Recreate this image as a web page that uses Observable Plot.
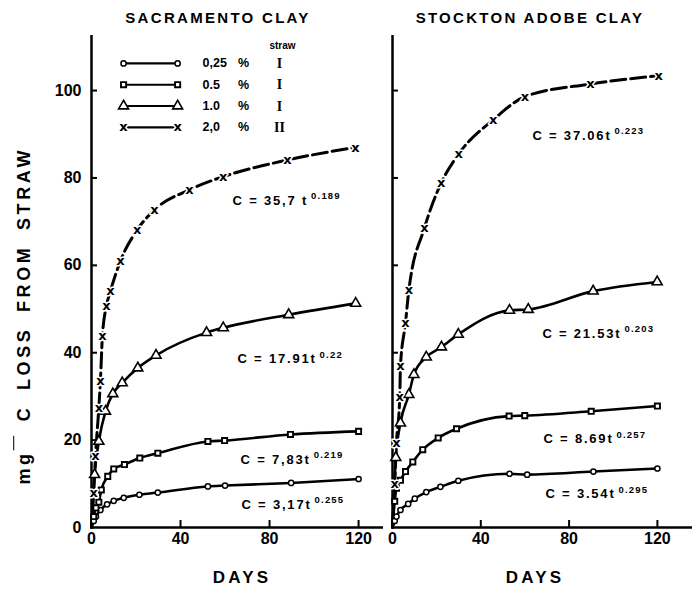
<!DOCTYPE html>
<html><head><meta charset="utf-8">
<script src="https://cdn.jsdelivr.net/npm/d3@7"></script>
<script src="https://cdn.jsdelivr.net/npm/@observablehq/plot@0.6"></script>
<style>
body{margin:0;background:#fff;}
#wrap{position:relative;width:694px;height:589px;font-family:"Liberation Sans",Arial,sans-serif;font-weight:bold;color:#000;overflow:hidden;}
.abs{position:absolute;white-space:nowrap;text-align:center;}
.plot{position:absolute;top:0;}
</style></head><body><div id="wrap"></div>
<script>
// ---- text / categories ----
const panelTitles = ["SACRAMENTO CLAY", "STOCKTON ADOBE CLAY"];
const seriesKeys = ["0.25", "0.5", "1.0", "2.0"];
const legendPct = ["0,25", "0.5", "1.0", "2,0"];
const strawType = ["I", "I", "I", "II"];
const xTicks = [0, 40, 80, 120];
const yTicks = [0, 20, 40, 60, 80, 100];
const xLabel = "DAYS";

// ---- Sacramento clay (days, mg C) ----
const sac025Days = [1, 2, 4, 7, 10, 14.5, 21.5, 29.8, 52.3, 60, 89.7, 120];
const sac025Vals = [1.5, 2.5, 4, 5.3, 6.1, 6.8, 7.5, 8, 9.4, 9.6, 10.2, 11.1];
const sac05Days = [1, 2, 3.3, 4.4, 7.3, 10, 14.8, 21.7, 29.8, 52.3, 59.8, 89.4, 120];
const sac05Vals = [2.5, 4.5, 5.8, 8.6, 11.7, 13.4, 14.4, 15.9, 17, 19.7, 19.9, 21.3, 22];
const sac10Days = [1.4, 3.3, 6.3, 9.6, 13.8, 20.8, 29, 51.7, 59.2, 88.6, 118.7];
const sac10Vals = [12.1, 19.7, 26.6, 30.6, 33.1, 36.5, 39.4, 44.6, 45.7, 48.7, 51.3];
const sac20Days = [1, 1.8, 3.3, 4, 4.9, 6.7, 8.5, 13, 20.5, 28.3, 44, 59.2, 88, 118.6];
const sac20Vals = [8, 16.3, 27.4, 33.5, 43.8, 50.7, 54.1, 61, 68.1, 72.7, 77.3, 80.3, 84.1, 87];

// ---- Stockton adobe clay (days, mg C) ----
const stk025Days = [1, 1.8, 3.6, 7.1, 10.1, 15.3, 21.7, 29.8, 53, 61, 91, 120];
const stk025Vals = [1.5, 2.5, 4, 5.4, 6.6, 8.1, 9.3, 10.7, 12.3, 12.1, 12.8, 13.5];
const stk05Days = [1, 1.8, 3.6, 5.9, 9.2, 13.7, 20.7, 29, 52.8, 59.9, 90, 120];
const stk05Vals = [6, 9, 10.8, 12.8, 15, 17.8, 20.5, 22.6, 25.5, 25.6, 26.6, 27.8];
const stk10Days = [1.5, 3.6, 7.4, 9.7, 15.3, 22.2, 29.8, 53, 61.5, 90.9, 119.9];
const stk10Vals = [16, 23.9, 30.4, 35, 39, 41.3, 44.2, 49.7, 49.9, 54.1, 56.2];
const stk20Days = [1, 1.8, 3.3, 3.6, 5.9, 7.4, 14.5, 22, 30, 45.6, 60, 89.7, 120.6];
const stk20Vals = [10, 19.3, 30, 36.9, 46.9, 54.3, 68.6, 78.8, 85.5, 93.3, 98.6, 101.5, 103.4];

// ---- fitted equations (text and anchor in data units) ----
const sacEqText = ["C = 3,17t^0.255", "C = 7,83t^0.219", "C = 17.91t^0.22", "C = 35,7 t^0.189"];
const sacEqDay = [67.4, 67, 65.6, 63.4];
const sacEqVal = [5.3, 15.6, 38.5, 74.8];
const stkEqText = ["C = 3.54t^0.295", "C = 8.69t^0.257", "C = 21.53t^0.203", "C = 37.06t^0.223"];
const stkEqDay = [69.3, 68.4, 67.9, 63.4];
const stkEqVal = [7.6, 20.2, 44.3, 89.7];

// ---- build tables ----
function series(days, vals, key) {
  return days.map((d, i) => ({day: d, val: vals[i], key}));
}
const sac = [series(sac025Days, sac025Vals, "0.25"), series(sac05Days, sac05Vals, "0.5"),
             series(sac10Days, sac10Vals, "1.0"), series(sac20Days, sac20Vals, "2.0")];
const stk = [series(stk025Days, stk025Vals, "0.25"), series(stk05Days, stk05Vals, "0.5"),
             series(stk10Days, stk10Vals, "1.0"), series(stk20Days, stk20Vals, "2.0")];

const FONT = "Liberation Sans, Arial, sans-serif";
const Y_DOMAIN = [0, 112.6];

function markersFor(rows, kind) {
  const common = {x: "day", y: "val", stroke: "black", fill: "white"};
  if (kind === 0) return Plot.dot(rows, {...common, symbol: "circle", r: 2.6, strokeWidth: 1.5});
  if (kind === 1) return Plot.dot(rows, {...common, symbol: "square", r: 2.9, strokeWidth: 1.9});
  if (kind === 2) return Plot.dot(rows, {...common, symbol: "triangle", r: 3.7, strokeWidth: 1.6});
  return Plot.text(rows, {x: "day", y: "val", text: () => "x", fontSize: 13, fontWeight: "bold",
    fontFamily: "DejaVu Sans, sans-serif", fill: "black", stroke: "white", strokeWidth: 3});
}

function panel(data, eqText, eqDay, eqVal, opts) {
  const marks = [];
  marks.push(Plot.ruleX([0], {strokeWidth: 2.5}));
  marks.push(Plot.ruleY([0], {strokeWidth: 2.5}));
  marks.push(Plot.ruleY(yTicks.filter(d => d > 0), {x1: 0, x2: 2.7, strokeWidth: 2}));
  marks.push(Plot.ruleX(xTicks.filter(d => d > 0), {y1: 0, y2: 1.6, strokeWidth: 2}));
  marks.push(Plot.axisX({ticks: xTicks, tickSize: 0, tickPadding: 5, label: null,
    fontSize: 16, fontWeight: "bold", fontFamily: FONT}));
  if (opts.yLabels) marks.push(Plot.axisY({ticks: yTicks, tickSize: 0, tickPadding: 10, label: null,
    fontSize: 16, fontWeight: "bold", fontFamily: FONT}));
  data.forEach((rows, i) => {
    marks.push(Plot.line([{day: 0, val: 0}, ...rows], {x: "day", y: "val", curve: "monotone-x",
      stroke: "black", strokeWidth: i === 3 ? 3 : 2.6,
      strokeDasharray: i === 3 ? "15,5" : null}));
  });
  data.forEach((rows, i) => marks.push(markersFor(rows, i)));
  const eqs = eqText.map((t, i) => ({t, day: eqDay[i], val: eqVal[i]}));
  marks.push(Plot.text(eqs, {x: "day", y: "val", text: "t", textAnchor: "start",
    fontSize: 13, fontWeight: "bold", fontFamily: FONT, fill: "black"}));
  if (opts.legend) {
    const top = 106.2, step = 4.87;
    const rowsL = seriesKeys.map((k, i) => ({i, y: top - i * step, pct: legendPct[i], straw: strawType[i]}));
    marks.push(Plot.text(["straw"], {x: () => 85.8, y: () => 110.3, text: d => d, fontSize: 10,
      fontWeight: "bold", fontFamily: FONT}));
    marks.push(Plot.link(rowsL, {x1: () => 14.4, x2: () => 38.7, y1: "y", y2: "y", strokeWidth: 2.2, stroke: "black"}));
    rowsL.forEach(r => {
      const pts = [{day: 14.4, val: r.y}, {day: 38.7, val: r.y}];
      marks.push(markersFor(pts, r.i));
    });
    marks.push(Plot.text(rowsL, {x: () => 49.9, y: "y", text: "pct", textAnchor: "start",
      fontSize: 12.5, fontWeight: "bold", fontFamily: FONT}));
    marks.push(Plot.text(rowsL, {x: () => 68.3, y: "y", text: () => "%",
      fontSize: 12.5, fontWeight: "bold", fontFamily: FONT}));
    marks.push(Plot.text(rowsL, {x: () => 84.5, y: "y", text: "straw",
      fontSize: 14, fontWeight: "bold", fontFamily: "Liberation Serif, serif"}));
  }
  const svg = Plot.plot({
    width: opts.width, height: 589,
    marginLeft: opts.ml, marginRight: opts.mr, marginTop: 35, marginBottom: 62,
    x: {domain: opts.xDomain, axis: null},
    y: {domain: Y_DOMAIN, axis: null},
    style: {fontFamily: FONT, background: "transparent", overflow: "visible"},
    marks
  });
  d3.select(svg).selectAll("text").each(function () {
    const s = this.textContent;
    if (s.includes("^")) {
      const [main, ex] = s.split("^");
      const el = d3.select(this);
      el.text(main).style("letter-spacing", "1.8px");
      el.append("tspan").attr("dy", "-0.6em").attr("dx", "3").attr("font-size", "9.5px")
        .style("letter-spacing", "1.2px").text(ex);
    }
  });
  return svg;
}

const wrap = document.getElementById("wrap");
const left = panel(sac, sacEqText, sacEqDay, sacEqVal,
  {width: 388, ml: 91, mr: 5, xDomain: [0, 131.2], yLabels: true, legend: true});
left.classList.add("plot"); left.style.left = "0px";
wrap.appendChild(left);
const right = panel(stk, stkEqText, stkEqDay, stkEqVal,
  {width: 306, ml: 4, mr: 2, xDomain: [0, 135.9], yLabels: false, legend: false});
right.classList.add("plot"); right.style.left = "388px";
wrap.appendChild(right);

function addText(html, cx, cy, size, ls, extra) {
  const d = document.createElement("div");
  d.className = "abs";
  d.innerHTML = html;
  d.style.width = "400px";
  d.style.left = (cx - 200) + "px";
  d.style.top = (cy - size * 0.6) + "px";
  d.style.fontSize = size + "px";
  d.style.lineHeight = (size * 1.2) + "px";
  d.style.letterSpacing = ls + "px";
  if (extra) Object.assign(d.style, extra);
  wrap.appendChild(d);
}
addText(panelTitles[0], 218, 18, 15, 2.3);
addText(panelTitles[1], 530, 18, 15, 2.3);
addText(xLabel, 242, 578, 17, 3.2);
addText(xLabel, 535, 578, 17, 3.2);
addText('mg<span style="text-decoration:overline">&nbsp;</span> C LOSS FROM STRAW', 25, 316, 18, 3.6,
  {transform: "rotate(-90deg)", transformOrigin: "50% 50%", wordSpacing: "6px"});
</script></body></html>
